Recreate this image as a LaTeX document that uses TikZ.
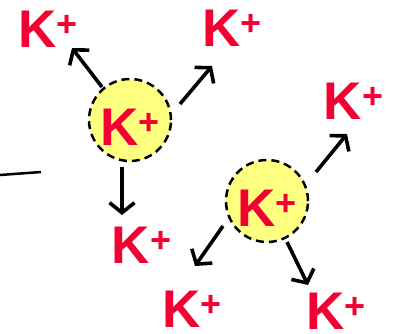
\documentclass[tikz,border=0pt]{standalone}
\usepackage{fontspec}
\setmainfont{Liberation Sans}
\usetikzlibrary{arrows.meta}
\definecolor{ionred}{RGB}{242,0,50}
\definecolor{ionyellow}{RGB}{255,255,128}
\newcommand{\kion}{{\fontsize{53}{53}\selectfont\bfseries K}\raisebox{11pt}{\fontsize{36}{36}\selectfont\bfseries +}}
\tikzset{
  ionball/.style={circle,draw=black,fill=ionyellow,line width=2.5pt,dash pattern=on 8pt off 5pt,
    minimum size=82pt,inner sep=0pt,text height=50pt,text depth=0pt,text=ionred},
  freeion/.style={inner sep=0pt,text=ionred},
  kick/.style={line width=3.6pt,-{Straight Barb[length=10pt,width=25pt,line width=3.6pt]}}
}
\begin{document}
\begin{tikzpicture}[x=1pt,y=-1pt]
\useasboundingbox (0,0) rectangle (395,333);
% the two hydrated potassium ions
\node[ionball] (c1) at (130,120) {\kion};
\node[ionball] (c2) at (267,201) {\kion};
% released ions
\node[freeion] (k1) at (48,29) {\kion};
\node[freeion] (k2) at (232,28) {\kion};
\node[freeion] (k3) at (141.5,245.5) {\kion};
\node[freeion] (k4) at (353.5,101) {\kion};
\node[freeion] (k5) at (192,309) {\kion};
\node[freeion] (k6) at (336,311) {\kion};
\draw[kick] ([shift={(-28,-33)}]c1.center) -- ([shift={(24,19)}]k1.center);
\draw[kick] ([shift={(50,-16)}]c1.center) -- ([shift={(-20,38)}]k2.center);
\draw[kick] ([shift={(-8,47)}]c1.center) -- ([shift={(-19.5,-30.5)}]k3.center);
\draw[kick] ([shift={(49,-29)}]c2.center) -- ([shift={(-6.5,33)}]k4.center);
\draw[kick] ([shift={(-44,25)}]c2.center) -- ([shift={(3,-43)}]k5.center);
\draw[kick] ([shift={(20,41)}]c2.center) -- ([shift={(-28,-26)}]k6.center);
% stray line on the left
\draw[line width=2.5pt] (0,175) -- (41,172);
\end{tikzpicture}
\end{document}
